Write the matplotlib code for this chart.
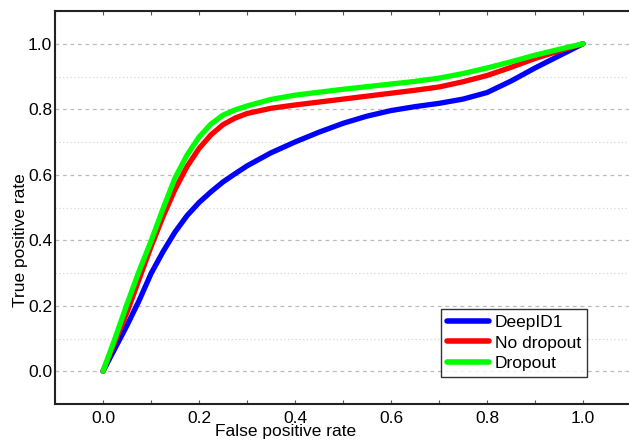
import matplotlib
matplotlib.use("Agg")
import matplotlib.pyplot as plt
from matplotlib.ticker import MultipleLocator

plt.rcParams['font.family'] = ['Liberation Sans', 'DejaVu Sans']

fpr = [0, 0.025, 0.05, 0.075, 0.1, 0.125, 0.15, 0.175, 0.2, 0.225, 0.25, 0.275, 0.3,
       0.35, 0.4, 0.45, 0.5, 0.55, 0.6, 0.65, 0.7, 0.75, 0.8, 0.85, 0.9, 0.95, 1.0]

tpr_deepid1 = [0, 0.07, 0.14, 0.215, 0.298, 0.365, 0.425, 0.475, 0.515, 0.548, 0.578, 0.603, 0.627,
               0.667, 0.700, 0.73, 0.757, 0.779, 0.796, 0.808, 0.818, 0.831, 0.851, 0.886, 0.926, 0.963, 1.0]
tpr_no_dropout = [0, 0.09, 0.18, 0.28, 0.38, 0.472, 0.555, 0.625, 0.68, 0.722, 0.753, 0.773, 0.787,
                  0.803, 0.813, 0.822, 0.831, 0.84, 0.849, 0.858, 0.868, 0.884, 0.903, 0.928, 0.955, 0.978, 1.0]
tpr_dropout = [0, 0.10, 0.205, 0.305, 0.397, 0.496, 0.59, 0.66, 0.715, 0.755, 0.782, 0.798, 0.81,
               0.83, 0.843, 0.852, 0.861, 0.869, 0.877, 0.885, 0.895, 0.909, 0.926, 0.945, 0.965, 0.983, 1.0]

labels = ["DeepID1", "No dropout", "Dropout"]
colors = ["#0000ff", "#ff0000", "#00ff00"]
tick_vals = [0.0, 0.2, 0.4, 0.6, 0.8, 1.0]
tick_labels = ["0.0", "0.2", "0.4", "0.6", "0.8", "1.0"]

FS = 12.5

fig = plt.figure(figsize=(6.29, 4.43), dpi=100)
ax = fig.add_axes([55/629, 39/443, 576/629, 393/443])

for ys, lab, c in zip([tpr_deepid1, tpr_no_dropout, tpr_dropout], labels, colors):
    ax.plot(fpr, ys, color=c, lw=3.8, label=lab, solid_capstyle='round', solid_joinstyle='round')

ax.set_xlim(-0.1, 1.1)
ax.set_ylim(-0.1, 1.1)
ax.set_xticks(tick_vals)
ax.set_yticks(tick_vals)
ax.xaxis.set_minor_locator(MultipleLocator(0.1))
ax.yaxis.set_minor_locator(MultipleLocator(0.1))
ax.set_xticklabels(tick_labels)
ax.set_yticklabels(tick_labels)
ax.tick_params(axis='x', which='both', direction='in', top=True, length=3, width=0.8,
               labelsize=FS, color='#555555', pad=5)
ax.tick_params(axis='y', which='both', length=0, labelsize=FS, pad=2)

ax.grid(axis='y', which='major', color='#bbbbbb', linestyle=(0, (3, 3)), lw=0.9)
ax.grid(axis='y', which='minor', color='#d8d8d8', linestyle=(0, (1, 2)), lw=0.9)
ax.set_axisbelow(True)

for s in ['left', 'bottom', 'top']:
    ax.spines[s].set_linewidth(1.5)
    ax.spines[s].set_color('#222222')
ax.spines['right'].set_visible(False)

ax.set_xlabel("False positive rate", fontsize=FS)
ax.set_ylabel("True positive rate", fontsize=FS)
ax.xaxis.set_label_coords(0.40, -0.052)
ax.yaxis.set_label_coords(-0.047, 0.417)

leg = ax.legend(loc='lower right', bbox_to_anchor=((587-55)/576, (443-377-39)/393),
                fontsize=FS, frameon=True, fancybox=False, handlelength=2.4,
                handletextpad=0.35, borderpad=0.35, labelspacing=0.3, borderaxespad=0)
leg.get_frame().set_edgecolor('black')
leg.get_frame().set_linewidth(1.0)
for line in leg.get_lines():
    line.set_linewidth(4)

fig.savefig("out.png", dpi=100)
